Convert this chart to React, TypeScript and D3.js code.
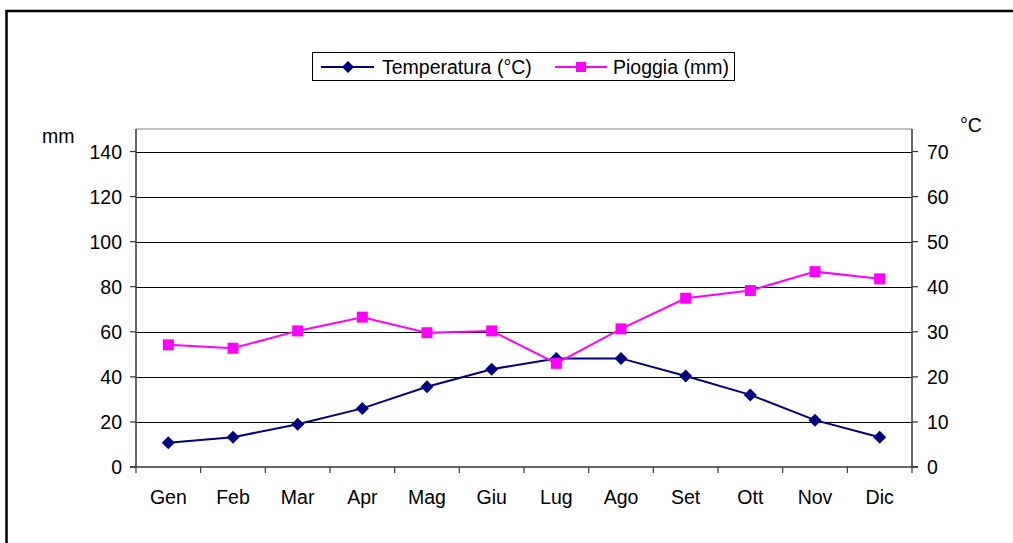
import React from "react";
import * as d3 from "d3";

const months = ["Gen", "Feb", "Mar", "Apr", "Mag", "Giu", "Lug", "Ago", "Set", "Ott", "Nov", "Dic"];
const temperatura = [5.4, 6.6, 9.5, 13.0, 17.8, 21.7, 24.1, 24.1, 20.2, 16.0, 10.4, 6.6];
const pioggia = [54.2, 52.7, 60.4, 66.5, 59.6, 60.4, 46.0, 61.3, 74.9, 78.3, 86.7, 83.5];
const leftTicks = [0, 20, 40, 60, 80, 100, 120, 140];
const rightTicks = [0, 10, 20, 30, 40, 50, 60, 70];

const W = 1013;
const H = 543;
const plot = { left: 136, right: 912, top: 129, bottom: 467 };
const FONT = "'Liberation Sans', Arial, sans-serif";
const FS = 19.5;

export default function App() {
  const x = d3.scaleBand<string>().domain(months).range([plot.left, plot.right]).padding(0);
  const yL = d3.scaleLinear().domain([0, 150]).range([plot.bottom, plot.top]);
  const yR = d3.scaleLinear().domain([0, 75]).range([plot.bottom, plot.top]);
  const cx = (m: string) => (x(m) as number) + x.bandwidth() / 2;

  const lineT = d3.line<number>().x((_, i) => cx(months[i])).y((d) => yR(d));
  const lineP = d3.line<number>().x((_, i) => cx(months[i])).y((d) => yL(d));
  const diamond = (px: number, py: number, r = 6.5) =>
    `M${px},${py - r}L${px + r},${py}L${px},${py + r}L${px - r},${py}Z`;

  const boundaries = months.map((m) => x(m) as number).concat([plot.right]);

  return (
    <svg width={W} height={H} style={{ position: "absolute", left: 0, top: 0 }} fontFamily={FONT}>
      <rect x={0} y={0} width={W} height={H} fill="#fff" />
      {/* outer frame */}
      <path d={`M6.5,${H + 5}V11H${W + 5}`} fill="none" stroke="#000" strokeWidth={2.5} />

      {/* legend */}
      <rect x={312.5} y={52.5} width={422} height={28} fill="#fff" stroke="#000" strokeWidth={1} />
      <line x1={321} x2={374} y1={67} y2={67} stroke="#000080" strokeWidth={2} />
      <path d={diamond(348, 67, 6)} fill="#000080" />
      <text x={382} y={74} fontSize={FS} fill="#000">Temperatura (°C)</text>
      <line x1={555} x2={607} y1={67} y2={67} stroke="#FF00FF" strokeWidth={2} />
      <rect x={576} y={62} width={10} height={10} fill="#FF00FF" />
      <text x={613} y={74} fontSize={FS} fill="#000">Pioggia (mm)</text>

      {/* plot area frame (top gray) */}
      <line x1={plot.left} x2={plot.right} y1={plot.top} y2={plot.top} stroke="#808080" strokeWidth={1} />

      {/* gridlines */}
      {leftTicks.filter((t) => t > 0).map((t) => (
        <line key={t} x1={plot.left} x2={plot.right} y1={Math.round(yL(t)) + 0.5} y2={Math.round(yL(t)) + 0.5} stroke="#000" strokeWidth={1} />
      ))}

      {/* axes */}
      <line x1={plot.left} x2={plot.left} y1={plot.top} y2={plot.bottom} stroke="#333" strokeWidth={1.5} />
      <line x1={plot.right} x2={plot.right} y1={plot.top} y2={plot.bottom} stroke="#333" strokeWidth={1.5} />
      <line x1={plot.left - 6} x2={plot.right + 6} y1={plot.bottom} y2={plot.bottom} stroke="#333" strokeWidth={1.5} />

      {leftTicks.map((t) => (
        <g key={"l" + t}>
          <line x1={plot.left - 6} x2={plot.left} y1={yL(t)} y2={yL(t)} stroke="#333" strokeWidth={1.2} />
          <text x={122} y={yL(t) + 7} fontSize={FS} textAnchor="end">{t}</text>
        </g>
      ))}
      {rightTicks.map((t) => (
        <g key={"r" + t}>
          <line x1={plot.right} x2={plot.right + 6} y1={yR(t)} y2={yR(t)} stroke="#333" strokeWidth={1.2} />
          <text x={927} y={yR(t) + 7} fontSize={FS} textAnchor="start">{t}</text>
        </g>
      ))}
      {boundaries.map((b, i) => (
        <line key={"xt" + i} x1={b} x2={b} y1={plot.bottom} y2={plot.bottom + 6} stroke="#333" strokeWidth={1.2} />
      ))}
      {months.map((m) => (
        <text key={m} x={cx(m)} y={504} fontSize={FS} textAnchor="middle">{m}</text>
      ))}

      <text x={42} y={143} fontSize={FS}>mm</text>
      <text x={960} y={132} fontSize={FS}>°C</text>

      {/* series */}
      <path d={lineT(temperatura) || ""} fill="none" stroke="#000080" strokeWidth={2} />
      {temperatura.map((v, i) => (
        <path key={"t" + i} d={diamond(cx(months[i]), yR(v))} fill="#000080" />
      ))}
      <path d={lineP(pioggia) || ""} fill="none" stroke="#FF00FF" strokeWidth={2} />
      {pioggia.map((v, i) => (
        <rect key={"p" + i} x={cx(months[i]) - 5.5} y={yL(v) - 5.5} width={11} height={11} fill="#FF00FF" />
      ))}
    </svg>
  );
}
